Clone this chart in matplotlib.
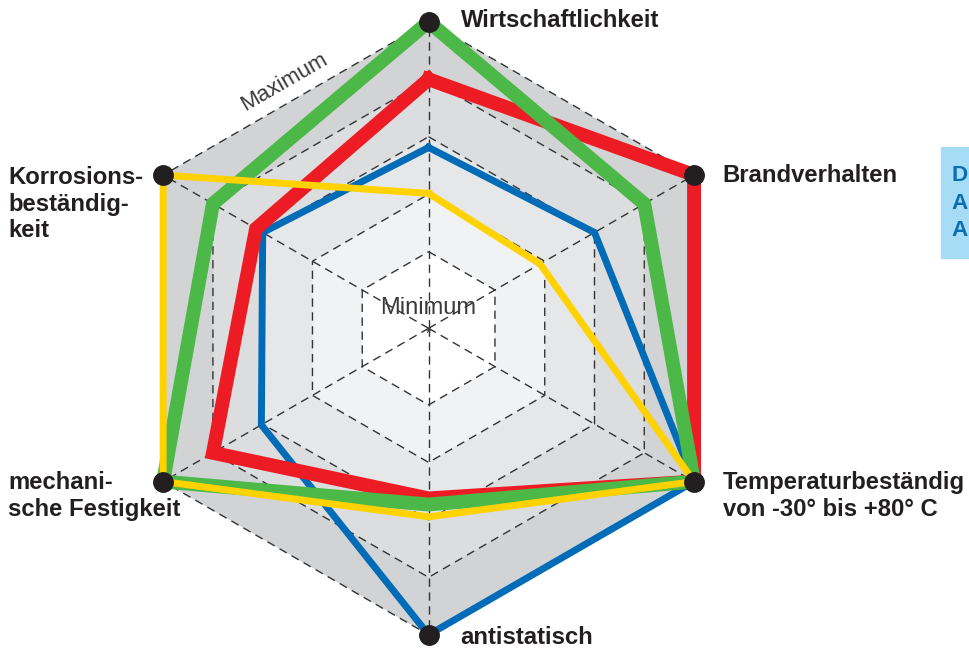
import numpy as np
import matplotlib
matplotlib.use("Agg")
import matplotlib.pyplot as plt

# axes of the chart, clockwise from the top
categories = ["Wirtschaftlichkeit", "Brandverhalten", "Temperaturbeständig\nvon -30° bis +80° C",
              "antistatisch", "mechani-\nsche Festigkeit", "Korrosions-\nbeständig-\nkeit"]

# values as share of the maximum (outer hexagon = 1.0)
green = [1.0, 0.8125, 1.0, 0.575, 1.0, 0.8125]
red = [0.8125, 1.0, 1.0, 0.555, 0.8125, 0.65]
blue = [0.59, 0.625, 1.0, 1.0, 0.63, 0.625]
yellow = [0.44, 0.42, 1.0, 0.615, 1.0, 1.0]

# grid hexagons (inner to outer) and band shading
ring_levels = [0.25, 0.4375, 0.625, 0.8125, 1.0]
ring_colors = ["#ffffff", "#f1f2f3", "#e6e7e8", "#dcdddf", "#d1d3d4"]

W, H = 969, 649
CX, CY, R = 428.6, 328.3, 306.5
INK = "#231f20"
FONT = ["Liberation Sans", "DejaVu Sans"]


def fx(x):
    return x / W


def fy(y):
    return 1 - y / H


fig = plt.figure(figsize=(W / 100, H / 100), dpi=100)
ax = fig.add_axes([fx(CX - R), fy(CY + R), 2 * R / W, 2 * R / H], projection="polar")
ax.set_theta_offset(np.pi / 2)
ax.set_theta_direction(-1)
ax.axis("off")

n = len(categories)
theta = np.arange(n) * 2 * np.pi / n
tc = np.append(theta, theta[0])


def closed(v):
    return list(v) + [v[0]]


# shaded bands, outer first
for lvl, col in reversed(list(zip(ring_levels, ring_colors))):
    ax.fill(tc, [lvl] * (n + 1), color=col, lw=0, zorder=1, clip_on=False)

# dashed grid
for lvl in ring_levels:
    ax.plot(tc, [lvl] * (n + 1), color="#333333", lw=1.0, dashes=(6, 4), zorder=2, clip_on=False)
for t in theta:
    ax.plot([t, t], [0, 1], color="#333333", lw=1.0, dashes=(6, 4), zorder=2, clip_on=False)

# data lines
series = [(blue, "#006bb6", 5.0), (red, "#ed1c24", 10.0), (green, "#4cb848", 10.0), (yellow, "#ffd200", 5.0)]
for z, (vals, col, lw) in enumerate(series):
    ax.plot(tc, closed(vals), color=col, lw=lw, solid_joinstyle="miter", zorder=3 + z, clip_on=False)

# black dots at the outer corners
ax.plot(theta, [1.0] * n, "o", ms=14, color=INK, zorder=10, clip_on=False)
ax.set_ylim(0, 1)

# center marks
ax.annotate("Minimum", xy=(0, 0), xytext=(0, 10), textcoords="offset points", ha="center",
            va="baseline", fontsize=17, color="#3a3a3a", family=FONT, zorder=11)
ax.annotate("*", xy=(0, 0), xytext=(0, -4), textcoords="offset points", ha="center",
            va="center", fontsize=10, color="#3a3a3a", family=FONT, zorder=11)
fig.text(fx(284), fy(82), "Maximum", rotation=30, rotation_mode="anchor", ha="center", va="center",
         fontsize=16, color="#3a3a3a", family=FONT)

# axis labels: (left x, baseline of last line) in pixels
label_pos = [(461, 27), (722.7, 181.7), (722.7, 515.5), (460, 643.5), (8.3, 516), (8.3, 237.3)]
for text, (x, y) in zip(categories, label_pos):
    fig.text(fx(x), fy(y), text, ha="left", va="baseline", fontsize=17.2, fontweight="bold",
             color=INK, family=FONT, linespacing=1.2)

# cut-off note box at the right edge
fig.patches.append(plt.Rectangle((fx(941), fy(258.3)), 1 - fx(941), (258.3 - 146.7) / H,
                                 transform=fig.transFigure, color="#a6dcf5", zorder=0))
for s, y in zip(["D", "A", "A"], [181.5, 209, 236.5]):
    fig.text(fx(951.5), fy(y), s, ha="left", va="baseline", fontsize=16.2, fontweight="bold",
             color="#0a6eb4", family=FONT)

fig.savefig("out.png", dpi=100)
